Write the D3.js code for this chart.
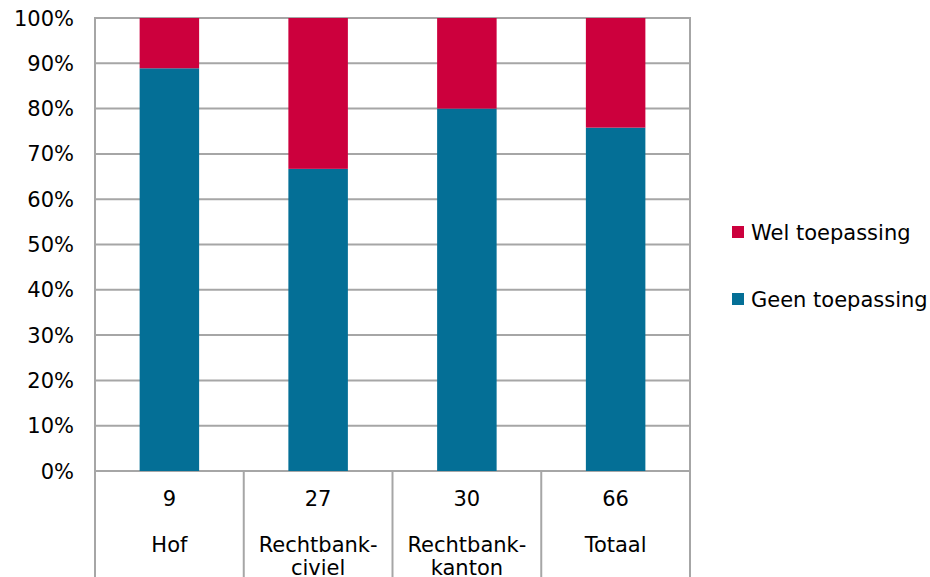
<!DOCTYPE html>
<html><head><meta charset="utf-8">
<script src="https://cdn.jsdelivr.net/npm/d3@7"></script>
<style>body{margin:0;background:#fff}svg{display:block}text{font-family:"DejaVu Sans",Verdana,sans-serif;fill:#000}</style>
</head><body><svg id="c" width="930" height="577"></svg>
<script>
const categories = ["Hof", "Rechtbank-\nciviel", "Rechtbank-\nkanton", "Totaal"];
const counts = [9, 27, 30, 66];
const geen = [88.9, 66.7, 80.0, 75.8];
const wel = [11.1, 33.3, 20.0, 24.2];
const series = ["Geen toepassing", "Wel toepassing"];
const colors = {"Geen toepassing": "#046F96", "Wel toepassing": "#CC003D"};
const yTicks = [0,10,20,30,40,50,60,70,80,90,100];

const svg = d3.select("#c");
const L = 95, R = 690, T = 18, B = 471;
const x = d3.scaleBand().domain(categories).range([L, R]).paddingInner(0).paddingOuter(0);
const y = d3.scaleLinear().domain([0, 100]).range([B, T]);
const fs = 21;

// gridlines
svg.append("g").selectAll("line").data(yTicks).join("line")
  .attr("x1", L).attr("x2", R).attr("y1", d => y(d)).attr("y2", d => y(d))
  .attr("stroke", "#A6A6A6").attr("stroke-width", 2);

// y labels
svg.append("g").selectAll("text").data(yTicks).join("text")
  .attr("x", 74).attr("y", d => y(d)).attr("dy", "0.36em").attr("text-anchor", "end")
  .attr("font-size", fs).text(d => d + "%");

// stacked bars
const rows = categories.map((c, i) => ({cat: c, "Geen toepassing": geen[i], "Wel toepassing": wel[i]}));
const stack = d3.stack().keys(series)(rows);
const bw = x.bandwidth() * 0.4;
svg.append("g").selectAll("g").data(stack).join("g").attr("fill", d => colors[d.key])
  .selectAll("rect").data(d => d).join("rect")
  .attr("x", d => x(d.data.cat) + (x.bandwidth() - bw) / 2)
  .attr("width", bw)
  .attr("y", d => y(Math.min(d[1], 100)))
  .attr("height", d => y(d[0]) - y(Math.min(d[1], 100)));

// frame and category dividers
const bounds = categories.map(c => x(c)).concat([R]);
svg.append("g").selectAll("line").data(bounds).join("line")
  .attr("x1", d => d).attr("x2", d => d)
  .attr("y1", (d, i) => (i === 0 || i === bounds.length - 1) ? T - 1 : B)
  .attr("y2", 577)
  .attr("stroke", "#A6A6A6").attr("stroke-width", 2);

// category labels
const cg = svg.append("g");
categories.forEach((c, i) => {
  const cx = x(c) + x.bandwidth() / 2;
  cg.append("text").attr("x", cx).attr("y", 506).attr("text-anchor", "middle").attr("font-size", fs).text(counts[i]);
  c.split("\n").forEach((ln, j) => {
    cg.append("text").attr("x", cx).attr("y", 552 + j * 23).attr("text-anchor", "middle").attr("font-size", fs).text(ln);
  });
});

// legend
const leg = [{k: "Wel toepassing", y: 232}, {k: "Geen toepassing", y: 299}];
const lg = svg.append("g");
leg.forEach(d => {
  lg.append("rect").attr("x", 732).attr("y", d.y - 6).attr("width", 12).attr("height", 12).attr("fill", colors[d.k]);
  lg.append("text").attr("x", 751).attr("y", d.y).attr("dy", "0.36em").attr("font-size", fs).text(d.k);
});
</script></body></html>
